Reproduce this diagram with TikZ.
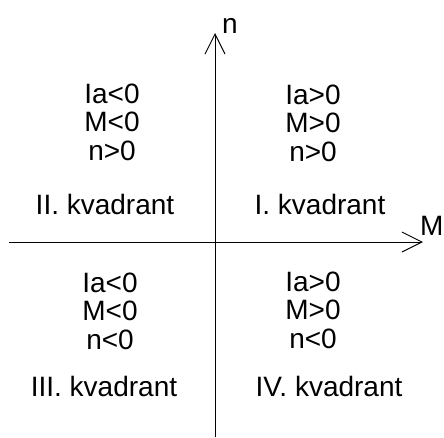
\documentclass[tikz,border=0pt]{standalone}
\usepackage{fontspec}
\setmainfont{Liberation Sans}
\usetikzlibrary{arrows.meta,positioning}

\begin{document}
\begin{tikzpicture}[x=1pt,y=-1pt,>={Straight Barb[length=20pt,width=20pt]}]
  \tikzstyle{txt}=[inner sep=0pt, align=center, font=\fontsize{28}{28.5}\selectfont]
  \tikzstyle{axis}=[line width=1pt, draw=black]
  \useasboundingbox (0,0) rectangle (444,437);
  \coordinate (nfrom) at (215,437);
  \coordinate (nto) at (215,33);
  \coordinate (Mfrom) at (9,242);
  \coordinate (Mto) at (423,242);
  \draw[axis, ->] (nfrom) -- (nto);
  \draw[axis, ->] (Mfrom) -- (Mto);
  \node[txt, anchor=base west] (nlab) at (222,33) {n};
  \node[txt, anchor=base west] (Mlab) at (420,235) {M};
  \node[txt] (q1) at (313,123) {Ia>0\\M>0\\n>0};
  \node[txt] (q2) at (112,122) {Ia<0\\M<0\\n>0};
  \node[txt] (q3) at (110,311) {Ia<0\\M<0\\n<0};
  \node[txt] (q4) at (313,310) {Ia>0\\M>0\\n<0};
  \node[txt] (k1) at (320,204) {I. kvadrant};
  \node[txt] (k2) at (105,204) {II. kvadrant};
  \node[txt] (k3) at (104,386) {III. kvadrant};
  \node[txt] (k4) at (329,386) {IV. kvadrant};
\end{tikzpicture}
\end{document}
